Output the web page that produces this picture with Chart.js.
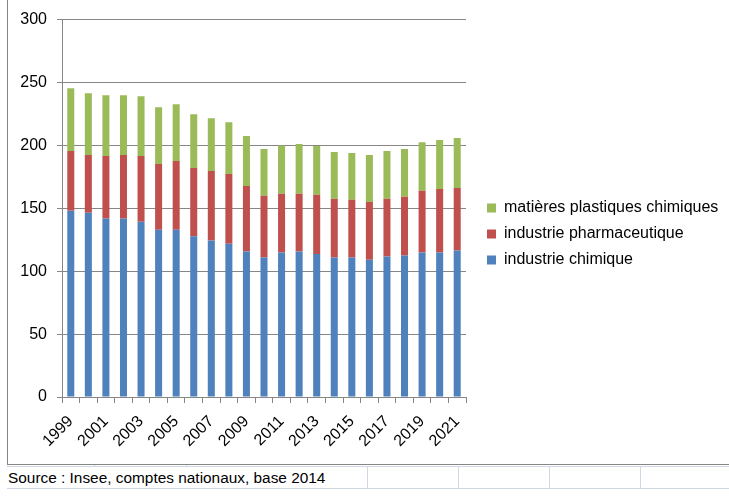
<!DOCTYPE html>
<html>
<head>
<meta charset="utf-8">
<script src="https://cdn.jsdelivr.net/npm/chart.js@4"></script>
<style>
  html, body { margin: 0; padding: 0; background: #fff; }
  body { width: 729px; height: 496px; position: relative; overflow: hidden; font-family: "Liberation Sans", Arial, sans-serif; }
  #c { position: absolute; left: 8px; top: 0; }
  .ln { position: absolute; }
  #src { position: absolute; left: 8px; top: 467px; height: 21px; line-height: 21px; font-size: 15.4px; color: #000; white-space: nowrap; }
</style>
</head>
<body>
<div class="ln" style="left:7px;top:0;width:1px;height:465px;background:#868686"></div>
<div class="ln" style="left:7px;top:464px;width:722px;height:1px;background:#868686"></div>
<div class="ln" style="left:7px;top:466px;width:722px;height:1px;background:#D0D7E5"></div>
<div class="ln" style="left:7px;top:488px;width:722px;height:1px;background:#D0D7E5"></div>
<div class="ln" style="left:94px;top:465px;width:1px;height:2px;background:#D0D7E5"></div>
<div class="ln" style="left:186px;top:465px;width:1px;height:2px;background:#D0D7E5"></div>
<div class="ln" style="left:367px;top:466px;width:1px;height:23px;background:#D0D7E5"></div>
<div class="ln" style="left:458px;top:466px;width:1px;height:23px;background:#D0D7E5"></div>
<div class="ln" style="left:549px;top:466px;width:1px;height:23px;background:#D0D7E5"></div>
<div class="ln" style="left:640px;top:466px;width:1px;height:23px;background:#D0D7E5"></div>
<canvas id="c" width="721" height="451"></canvas>
<div id="src">Source : Insee, comptes nationaux, base 2014</div>
<script>
const years = ['1999','2000','2001','2002','2003','2004','2005','2006','2007','2008','2009','2010','2011','2012','2013','2014','2015','2016','2017','2018','2019','2020','2021'];
const industrieChimique = [148.0,146.4,141.9,141.9,139.3,133.0,133.0,127.7,124.5,121.9,115.6,110.8,114.8,115.6,113.7,110.8,110.8,109.2,111.6,112.4,114.8,114.8,116.4];
const industriePharma = [47.5,45.9,49.7,50.4,52.3,52.2,54.6,54.4,55.2,55.4,52.2,49.1,46.7,45.9,47.0,46.7,45.9,45.9,45.9,46.7,49.1,50.6,49.8];
const matieresPlastiques = [49.9,49.1,48.2,47.5,47.5,45.1,45.1,42.7,41.9,41.2,39.6,37.2,38.5,39.6,38.8,37.2,37.2,37.2,38.0,38.0,38.7,38.8,39.6];
const yTicks = { min: 0, max: 300, step: 50 };

Chart.defaults.font.family = '"Liberation Sans", Arial, sans-serif';
Chart.defaults.font.size = 16;
Chart.defaults.color = '#000';

const axisGray = '#868686';

// Let the right-hand legend take the width it needs (Chart.js caps side boxes otherwise)
const legendWidthFix = {
  id: 'legendWidthFix',
  beforeInit(chart) {
    const lg = chart.legend;
    if (!lg) return;
    const origFit = lg.fit;
    lg.fit = function () {
      origFit.call(this);
      if (this.options.display) this.width = 252;
    };
  }
};

new Chart(document.getElementById('c'), {
  type: 'bar',
  data: {
    labels: years,
    datasets: [
      { label: 'industrie chimique', data: industrieChimique, backgroundColor: '#4F81BD' },
      { label: 'industrie pharmaceutique', data: industriePharma, backgroundColor: '#C0504D' },
      { label: 'matières plastiques chimiques', data: matieresPlastiques, backgroundColor: '#9BBB59' }
    ]
  },
  plugins: [legendWidthFix],
  options: {
    responsive: false,
    animation: false,
    events: [],
    layout: { padding: { top: 17, right: 0, bottom: 0, left: 0 } },
    datasets: { bar: { barPercentage: 0.4, categoryPercentage: 1.0 } },
    plugins: {
      tooltip: { enabled: false },
      legend: {
        position: 'right',
        align: 'center',
        reverse: true,
        labels: { boxWidth: 9, boxHeight: 9, padding: 10, color: '#000', font: { size: 16 } }
      }
    },
    scales: {
      x: {
        stacked: true,
        grid: { display: true, drawOnChartArea: false, drawTicks: true, tickLength: 6, offset: true, color: axisGray, lineWidth: 1 },
        border: { display: true, color: axisGray, width: 1 },
        ticks: {
          autoSkip: false, minRotation: 45, maxRotation: 45, padding: 9, color: '#000',
          callback: function (val, i) { return i % 2 === 0 ? this.getLabelForValue(val) : ''; }
        },
        afterFit: function (s) { s.height = 54; }
      },
      y: {
        stacked: true,
        min: yTicks.min, max: yTicks.max,
        ticks: { stepSize: yTicks.step, padding: 10, color: '#000' },
        grid: { color: axisGray, lineWidth: 1, tickLength: 5, drawTicks: true },
        border: { display: true, color: axisGray, width: 1 },
        afterFit: function (s) { s.width = 54; }
      },
      gap: {
        type: 'linear', position: 'right', display: true,
        grid: { display: false, drawTicks: false },
        border: { display: false },
        ticks: { display: false },
        afterFit: function (s) { s.width = 11; }
      }
    }
  }
});
</script>
</body>
</html>
